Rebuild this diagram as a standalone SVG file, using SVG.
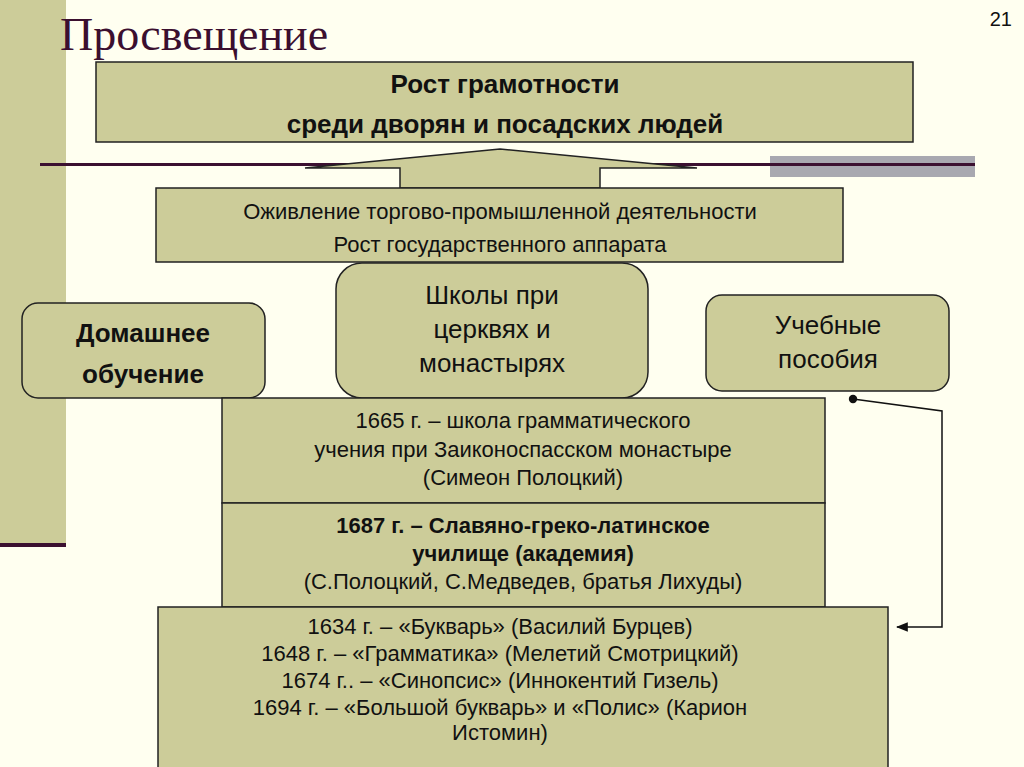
<svg xmlns="http://www.w3.org/2000/svg" width="1024" height="767" viewBox="0 0 1024 767">
<defs>
<style>
.b{fill:#CCCC99;stroke:#222;stroke-width:1.5}
.t{font-family:"Liberation Sans",Arial,sans-serif;fill:#111;text-anchor:middle}
</style>
<marker id="ar" viewBox="0 0 10 10" refX="9" refY="5" markerWidth="8" markerHeight="8" orient="auto"><path d="M10,1 L0,5 L10,9 Z" transform="rotate(180 5 5)" fill="#111"/></marker>
<marker id="dot" viewBox="0 0 10 10" refX="5" refY="5" markerWidth="7" markerHeight="7"><circle cx="5" cy="5" r="4" fill="#111"/></marker>
</defs>
<rect width="1024" height="767" fill="#FFFFF0"/>
<rect x="0" y="0" width="66" height="545" fill="#CCCC99"/>
<rect x="0" y="543" width="66" height="4" fill="#3B1030"/>
<rect x="770" y="156" width="205" height="21" fill="#A8A8B0"/>
<rect x="40" y="163" width="935" height="3" fill="#3B1030"/>
<text x="60" y="50" font-family="Liberation Serif,serif" font-size="46" fill="#3B0F2F">Просвещение</text>
<text x="1012" y="26" font-family="Liberation Sans,sans-serif" font-size="20" fill="#111" text-anchor="end">21</text>
<g id="top"><rect class="b" x="96" y="62" width="817" height="80"/>
<text class="t" x="505" y="93" font-size="26" font-weight="bold">Рост грамотности</text>
<text class="t" x="505" y="133" font-size="26" font-weight="bold">среди дворян и посадских людей</text></g>
<g id="arrow"><path class="b" d="M500,149 L697,168 L600,168 L600,188 L400,188 L400,168 L305,168 Z"/></g>
<g id="mid"><rect class="b" x="156" y="188" width="687" height="74"/>
<text class="t" x="500" y="219" font-size="22">Оживление торгово-промышленной деятельности</text>
<text class="t" x="500" y="252" font-size="22">Рост государственного аппарата</text></g>
<g id="schools"><rect class="b" x="336" y="263" width="312" height="135" rx="26"/>
<text class="t" x="492" y="304" font-size="26">Школы при</text>
<text class="t" x="492" y="338" font-size="26">церквях и</text>
<text class="t" x="492" y="372" font-size="26">монастырях</text></g>
<g id="home"><rect class="b" x="22" y="303" width="243" height="95" rx="16"/>
<text class="t" x="143" y="342" font-size="26" font-weight="bold">Домашнее</text>
<text class="t" x="143" y="383" font-size="26" font-weight="bold">обучение</text></g>
<g id="books"><rect class="b" x="706" y="295" width="243" height="96" rx="16"/>
<text class="t" x="828" y="334" font-size="26">Учебные</text>
<text class="t" x="828" y="368" font-size="26">пособия</text></g>
<g id="s1665"><rect class="b" x="222" y="398" width="603" height="105"/>
<text class="t" x="523" y="428" font-size="22">1665 г. – школа грамматического</text>
<text class="t" x="523" y="457" font-size="22">учения при Заиконоспасском  монастыре</text>
<text class="t" x="523" y="485" font-size="22">(Симеон Полоцкий)</text></g>
<g id="s1687"><rect class="b" x="222" y="503" width="603" height="104"/>
<text class="t" x="523" y="533" font-size="22" font-weight="bold">1687 г. – Славяно-греко-латинское</text>
<text class="t" x="523" y="561" font-size="22" font-weight="bold">училище (академия)</text>
<text class="t" x="523" y="589" font-size="22">(С.Полоцкий, С.Медведев, братья Лихуды)</text></g>
<g id="list"><rect class="b" x="158" y="607" width="730" height="170"/>
<text class="t" x="500" y="634" font-size="22">1634 г. – «Букварь» (Василий Бурцев)</text>
<text class="t" x="500" y="661" font-size="22">1648 г. – «Грамматика» (Мелетий Смотрицкий)</text>
<text class="t" x="500" y="688" font-size="22">1674 г.. – «Синопсис» (Иннокентий Гизель)</text>
<text class="t" x="500" y="715" font-size="22">1694 г. – «Большой букварь» и «Полис» (Карион</text>
<text class="t" x="500" y="740" font-size="22">Истомин)</text></g>
<g id="connectors"><path d="M853,399 L942,411 L942,627 L897,627" fill="none" stroke="#111" stroke-width="1.5" marker-start="url(#dot)" marker-end="url(#ar)"/></g>
</svg>
